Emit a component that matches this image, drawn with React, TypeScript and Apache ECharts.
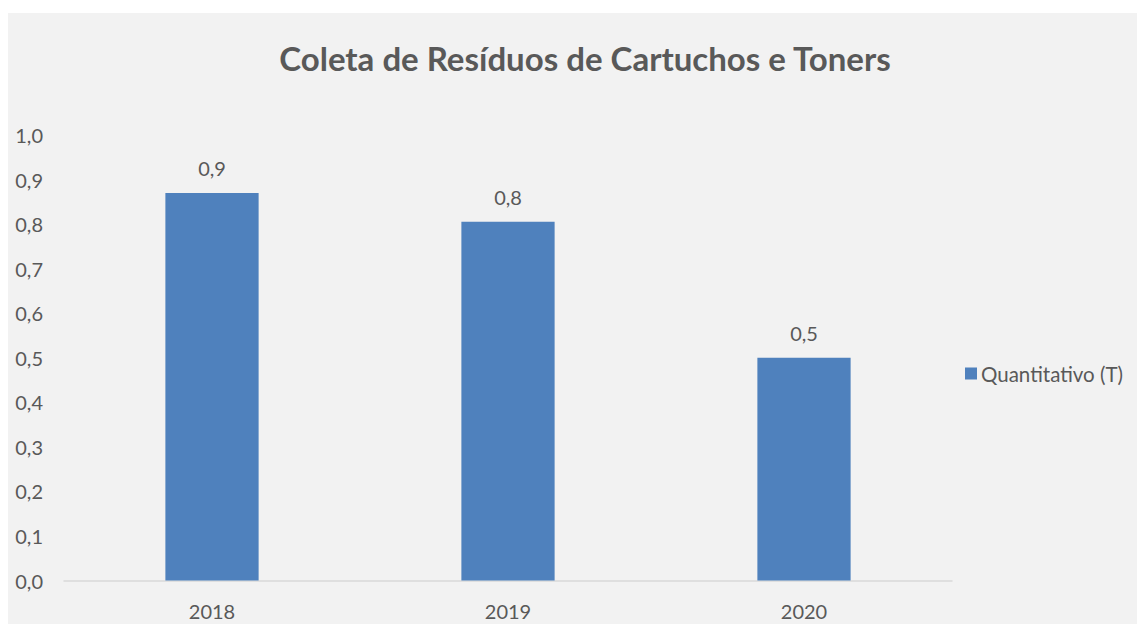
import React, { useEffect, useRef } from "react";
import * as echarts from "echarts";

const categories = ["2018", "2019", "2020"];
const seriesName = "Quantitativo (T)";
const values = [0.87, 0.805, 0.5];
const chartTitle = "Coleta de Resíduos de Cartuchos e Toners";

const fmt = (v: number) => v.toFixed(1).replace(".", ",");

export default function App() {
  const ref = useRef<HTMLDivElement>(null);
  useEffect(() => {
    if (!ref.current) return;
    const chart = echarts.init(ref.current, null, { renderer: "svg" });
    const font = "Lato, 'Open Sans', sans-serif";
    chart.setOption({
      animation: false,
      backgroundColor: "#f2f2f2",
      textStyle: { fontFamily: font },
      title: {
        text: chartTitle,
        left: 572,
        textAlign: "center",
        top: 23,
        textStyle: { fontSize: 33, fontWeight: "bold", color: "#595959", fontFamily: font },
      },
      legend: {
        data: [seriesName],
        left: 957,
        top: 350,
        padding: 0,
        itemWidth: 12,
        itemHeight: 12,
        icon: "rect",
        textStyle: { fontSize: 20.5, color: "#595959", fontFamily: font, padding: [0, 0, 0, -1] },
      },
      grid: { left: 56, right: 193, top: 122, bottom: 43.5, containLabel: false },
      xAxis: {
        type: "category",
        data: categories,
        axisLine: { lineStyle: { color: "#d9d9d9", width: 1.5 } },
        axisTick: { show: false },
        axisLabel: { color: "#595959", fontSize: 20, margin: 20, fontFamily: font },
      },
      yAxis: {
        type: "value",
        min: 0,
        max: 1,
        interval: 0.1,
        splitLine: { show: false },
        axisLine: { show: false },
        axisTick: { show: false },
        axisLabel: {
          color: "#595959",
          fontSize: 20,
          margin: 21,
          fontFamily: font,
          formatter: (v: number) => fmt(v),
        },
      },
      series: [
        {
          name: seriesName,
          type: "bar",
          data: values,
          barWidth: "31.5%",
          itemStyle: { color: "#4f81bd" },
          label: {
            show: true,
            position: "top",
            distance: 15,
            color: "#595959",
            fontSize: 20,
            fontFamily: font,
            formatter: (p: any) => fmt(p.value),
          },
        },
      ],
    });
    return () => chart.dispose();
  }, []);
  return (
    <div style={{ paddingTop: 5, background: "#fff" }}>
      <div ref={ref} style={{ width: 1137, height: 611 }} />
    </div>
  );
}
